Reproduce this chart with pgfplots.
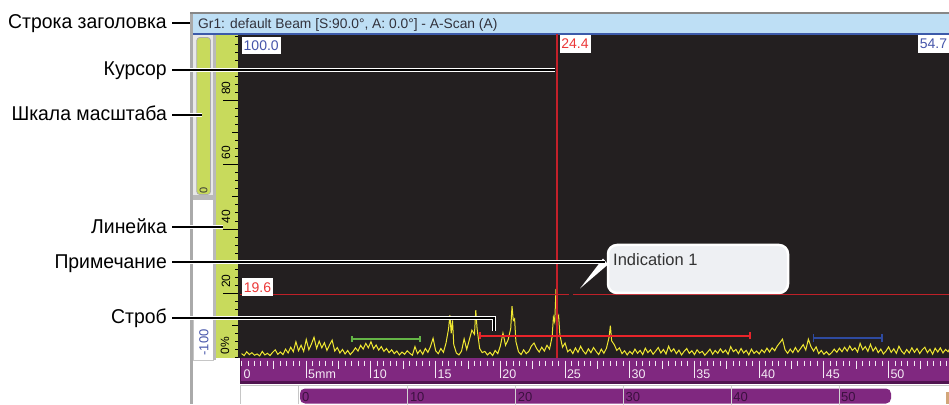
\documentclass[border=0pt]{standalone}
\usepackage{pgfplots}
\pgfplotsset{compat=1.18}
\usepackage{fontspec}
\setmainfont{Liberation Sans}
\newfontfamily\annotfont{Liberation Sans}[FakeStretch=0.97]
\newcommand\fs[1]{\fontsize{#1pt}{#1pt}\selectfont}
\definecolor{titleblue}{RGB}{190,223,245}
\definecolor{titlebord}{RGB}{135,135,135}
\definecolor{titleline}{RGB}{60,90,170}
\definecolor{titletext}{RGB}{50,50,60}
\definecolor{wingray}{RGB}{170,170,170}
\definecolor{plotdark}{RGB}{35,31,32}
\definecolor{rulergreen}{RGB}{200,218,92}
\definecolor{purp}{RGB}{128,40,128}
\definecolor{purpdark}{RGB}{80,20,80}
\definecolor{rulertick}{RGB}{245,235,245}
\definecolor{barlabel}{RGB}{60,16,64}
\definecolor{sig}{RGB}{240,232,50}
\definecolor{thr}{RGB}{190,32,40}
\definecolor{cur}{RGB}{195,32,42}
\definecolor{gateg}{RGB}{100,180,70}
\definecolor{gater}{RGB}{232,36,42}
\definecolor{gateb}{RGB}{46,74,160}
\definecolor{valblue}{RGB}{70,85,170}
\definecolor{valred}{RGB}{235,55,55}
\definecolor{callout}{RGB}{238,240,243}
\newcommand\annot[1]{\draw[white,line width=3.6pt] #1; \draw[black,line width=1.6pt] #1;}
\begin{document}
\begin{tikzpicture}[x=1pt,y=1pt]
\useasboundingbox (0,0) rectangle (949,404);
\begin{scope}[shift={(0pt,404pt)},y=-1pt]
 \fill[white] (0,0) rectangle (949,404);
 \fill[wingray] (189.5,12) rectangle (193,404);
 \fill[titleblue] (193,14) rectangle (949,33.5);
 \fill[titlebord] (189.5,12) rectangle (949,14.2);
 \fill[titleline] (193,33.2) rectangle (949,34.6);
 \node[anchor=base west, font=\fs{13.8}, text=titletext, inner sep=0] at (198,28.8) {Gr1: default Beam [S:90.0°, A: 0.0°] - A-Scan (A)};
 % gain widget
 \fill[gray!18] (193,34.6) rectangle (213.3,200);
 \fill[gray!55] (193,195) rectangle (213.3,200);
 \filldraw[fill=rulergreen, draw=gray!65, line width=0.8pt, rounded corners=3pt] (196.8,37.5) rectangle (210.5,194.5);
 \node[rotate=90, font=\fs{11}, text=black!80, inner sep=0] at (203.6,190.5) {0};
 % -100 box
 \filldraw[fill=white, draw=gray!45, line width=0.8pt] (193.5,318) rectangle (213,360);
 \node[rotate=90, font=\fs{13}, text=valblue, inner sep=0] at (204,342.5) {-100};
 % ruler
 \fill[gray!55] (213.3,34.6) rectangle (215.8,360);
 \fill[rulergreen] (215.8,34.6) rectangle (238.3,358.3);
 \foreach \v in {0,2.5,...,100} \draw[black,line width=0.7pt] (238.3,{357.5-3.215*\v}) -- ++(-3.5,0);
 \foreach \v in {10,30,50,70,90} \draw[black,line width=0.7pt] (238.3,{357.5-3.215*\v}) -- ++(-6.5,0);
 \foreach \v in {20,40,60,80} {
   \draw[black,line width=0.7pt] (238.3,{357.5-3.215*\v}) -- (222.5,{357.5-3.215*\v});
   \node[rotate=90,font=\fs{12},inner sep=0] at (226,{357.5-3.215*\v-12}) {\v};
 }
 \node[rotate=90,font=\fs{12},inner sep=0] at (225,346) {0\%};
 % plot background
 \fill[plotdark] (238.3,34.6) rectangle (949,358.3);
 % purple ruler
 \fill[purp] (240,358.3) rectangle (949,383.5);
 \fill[purpdark] (240,381.3) rectangle (949,383.8);
 \fill[purpdark] (240,358.3) rectangle (241.2,383.8);
 \foreach \m in {0,0.5,...,54.5} \draw[rulertick,line width=0.9pt] ({241.5+12.94*\m},360.5) -- ++(0,5);
 \foreach \m in {2.5,7.5,...,52.5} \draw[rulertick,line width=0.9pt] ({241.5+12.94*\m},360.5) -- ++(0,8.5);
 \foreach \m/\l in {5/5mm,10/10,15/15,20/20,25/25,30/30,35/35,40/40,45/45,50/50} {
   \draw[rulertick,line width=0.9pt] ({241.5+12.94*\m},360.5) -- ++(0,17.5);
   \node[anchor=base west,font=\fs{12.5},text=rulertick,inner sep=0] at ({241.5+12.94*\m+1.8},378) {\l};
 }
 \node[anchor=base west,font=\fs{12.5},text=rulertick,inner sep=0] at (243.3,378) {0};
 % lower bar
 \fill[white] (240,383.8) rectangle (949,404);
 \draw[gray!45,line width=1pt] (240,385.5) -- (949,385.5);
 \draw[gray!45,line width=1pt] (240.5,385.5) -- (240.5,404);
 \draw[gray!45,line width=1pt] (298.5,385.5) -- (298.5,404);
 \fill[purp,rounded corners=5pt] (300,388.5) rectangle (891,403.5);
 \foreach \k in {1,...,5} \draw[gray!35,line width=0.9pt] ({300+107.8*\k},385.5) -- ++(0,19);
 \foreach \k/\l in {0/0,1/10,2/20,3/30,4/40,5/50}
   \node[anchor=base west,font=\fs{13},text=barlabel,inner sep=0] at ({302+107.8*\k},401.5) {\l};
 \fill[brown!70] (946,392) rectangle (949,404);
\end{scope}

\begin{axis}[at={(240pt,45.7pt)}, anchor=south west, scale only axis,
  width=709pt, height=324pt, xmin=-0.12, xmax=54.67, ymin=-0.25, ymax=100.53,
  axis lines=none, clip=true]
\addplot[sig, line width=1.0pt] coordinates {
(0,1.2)(0.2,0.6)(0.4,1.8)(0.6,0.9)(0.8,1.5)(1,0.7)(1.2,1.1)(1.4,0.5)(1.6,1.9)(1.8,0.8)(2,1.3)(2.2,0.6)(2.4,1.6)(2.6,2.4)(2.8,1.0)(3,1.7)(3.2,0.9)(3.4,2.6)(3.6,1.4)(3.8,3.2)(4,1.8)(4.2,4.9)(4.4,2.1)(4.6,3.8)(4.8,1.9)
(5,5.6)(5.2,2.4)(5.4,4.2)(5.6,6.3)(5.8,2.8)(6,5.1)(6.2,3.0)(6.4,4.6)(6.6,2.2)(6.8,3.9)(7,5.4)(7.2,2.0)(7.4,3.1)(7.6,1.4)(7.8,2.5)(8,1.1)(8.2,2.2)(8.4,0.9)(8.6,1.8)(8.8,3.0)(9,2.0)(9.2,3.8)(9.4,2.6)(9.6,4.4)(9.8,3.0)
(10,4.9)(10.2,2.7)(10.4,3.9)(10.6,2.3)(10.8,3.4)(11,1.9)(11.2,2.8)(11.4,1.5)(11.6,2.4)(11.8,1.2)(12,2.0)(12.2,0.8)(12.4,1.7)(12.6,1.0)(12.8,2.1)(13,1.3)(13.2,0.7)(13.4,3.4)(13.6,1.2)(13.8,2.3)(14,1.0)(14.2,2.8)(14.4,1.6)(14.6,3.4)(14.8,6.0)
(15,2.1)(15.2,1.2)(15.4,2.8)(15.6,1.6)(15.8,4.5)(16,9.0)(16.1,13.2)(16.2,7.5)(16.3,11.5)(16.4,4.0)(16.6,1.4)(16.8,0.8)(17,2.0)(17.2,5.8)(17.4,2.5)(17.6,5.5)(17.8,8.5)(18,7.2)(18.1,14.7)(18.2,9.0)(18.4,2.8)(18.6,1.5)(18.8,1.9)(19,0.8)(19.2,1.6)(19.4,0.6)(19.6,2.2)(19.8,1.2)
(20,3.6)(20.2,7.6)(20.4,3.8)(20.6,5.5)(20.8,9.0)(20.9,16.0)(21,11.5)(21.1,12.0)(21.2,5.0)(21.4,1.8)(21.6,0.9)(21.8,2.4)(22,1.2)(22.2,1.9)(22.4,3.6)(22.6,4.5)(22.8,2.8)(23,1.7)(23.2,3.2)(23.4,2.0)(23.6,3.8)(23.8,2.6)(24,6.5)(24.1,12.5)(24.2,11.0)(24.3,21.3)(24.4,12.0)(24.5,13.0)(24.6,7.0)(24.8,3.2)
(25,4.5)(25.2,1.8)(25.4,2.5)(25.6,1.2)(25.8,3.0)(26,1.6)(26.2,3.5)(26.4,2.0)(26.6,1.1)(26.8,2.7)(27,1.5)(27.2,3.1)(27.4,1.9)(27.6,0.9)(27.8,2.6)(28,1.3)(28.2,2.9)(28.4,6.3)(28.5,9.9)(28.6,5.2)(28.8,4.0)(29,2.2)(29.2,3.0)(29.4,1.2)(29.6,2.1)(29.8,0.8)
(30,1.9)(30.2,1.1)(30.4,2.6)(30.6,1.3)(30.8,2.2)(31,0.9)(31.2,2.9)(31.4,1.5)(31.6,2.4)(31.8,1.0)(32,2.0)(32.2,3.1)(32.4,1.4)(32.6,2.5)(32.8,1.1)(33,3.5)(33.2,1.8)(33.4,2.7)(33.6,1.2)(33.8,2.3)(34,0.8)(34.2,1.9)(34.4,2.8)(34.6,1.3)(34.8,2.1)
(35,0.9)(35.2,2.4)(35.4,1.4)(35.6,1.9)(35.8,0.7)(36,1.6)(36.2,2.6)(36.4,1.0)(36.6,2.2)(36.8,1.3)(37,2.7)(37.2,1.5)(37.4,2.3)(37.6,1.0)(37.8,3.4)(38,1.8)(38.2,2.5)(38.4,1.2)(38.6,2.8)(38.8,1.4)(39,2.2)(39.2,0.8)(39.4,2.6)(39.6,1.3)(39.8,2.0)
(40,1.1)(40.2,2.4)(40.4,1.5)(40.6,2.9)(40.8,1.7)(41,3.0)(41.2,2.1)(41.4,3.6)(41.6,4.6)(41.8,5.7)(42,2.4)(42.2,1.3)(42.4,2.6)(42.6,1.5)(42.8,3.1)(43,1.7)(43.2,2.8)(43.4,4.0)(43.6,2.3)(43.8,5.7)(44,3.4)(44.2,2.0)(44.4,3.3)(44.6,1.2)(44.8,2.2)
(45,1.0)(45.2,1.8)(45.4,0.8)(45.6,1.5)(45.8,2.6)(46,1.6)(46.2,2.9)(46.4,1.8)(46.6,3.2)(46.8,2.0)(47,3.6)(47.2,2.2)(47.4,3.0)(47.6,1.7)(47.8,4.4)(48,2.4)(48.2,3.4)(48.4,1.9)(48.6,4.1)(48.8,2.0)(49,3.2)(49.2,1.5)(49.4,2.6)(49.6,1.1)(49.8,2.0)
(50,3.3)(50.2,1.6)(50.4,2.7)(50.6,1.3)(50.8,3.5)(51,2.0)(51.2,1.1)(51.4,2.5)(51.6,1.4)(51.8,3.0)(52,1.6)(52.2,2.8)(52.4,1.2)(52.6,2.4)(52.8,3.2)(53,1.5)(53.2,2.6)(53.4,1.0)(53.6,2.9)(53.8,1.7)(54,3.0)(54.2,1.4)(54.4,2.5)(54.6,1.8)(54.7,2.6)
};
\addplot[thr, line width=1.1pt] coordinates {(-0.12,19.6)(25.3,19.6)};
\addplot[thr, line width=1.1pt] coordinates {(25.65,19.6)(54.67,19.6)};
\addplot[draw=cur, line width=1.8pt] coordinates {(24.4,-0.25)(24.4,100.53)};
% gates
\addplot[gateg, line width=2pt] coordinates {(8.54,5.75)(13.79,5.75)};
\addplot[gateg, line width=1.3pt] coordinates {(8.54,4.8)(8.54,6.7)};
\addplot[gateg, line width=1.3pt] coordinates {(13.79,4.8)(13.79,6.7)};
\addplot[gater, line width=2.2pt] coordinates {(18.43,6.7)(39.29,6.7)};
\addplot[gater, line width=1.3pt] coordinates {(18.43,5.6)(18.43,7.8)};
\addplot[gater, line width=1.3pt] coordinates {(39.29,5.6)(39.29,7.8)};
\addplot[gateb, line width=2.2pt] coordinates {(44.2,6.1)(49.5,6.1)};
\addplot[gateb, line width=1.3pt] coordinates {(44.2,4.9)(44.2,7.3)};
\addplot[gateb, line width=1.3pt] coordinates {(49.5,4.9)(49.5,7.3)};
\end{axis}

\begin{scope}[shift={(0pt,404pt)},y=-1pt]
 % value boxes
 \fill[white] (242,37) rectangle (280.5,54);
 \node[font=\fs{14},text=valblue,inner sep=0] at (261.2,45.5) {100.0};
 \fill[white] (559.5,34.6) rectangle (590.5,53);
 \node[font=\fs{14},text=valred,inner sep=0] at (575,43.8) {24.4};
 \fill[white] (918,34.6) rectangle (949,53);
 \node[font=\fs{14},text=valblue,inner sep=0] at (933.5,43.8) {54.7};
 \fill[white] (242,278.5) rectangle (273,296.5);
 \node[font=\fs{14},text=valred,inner sep=0] at (257.5,287.5) {19.6};
 % callout
 \fill[white] (603,258.5) -- (608,264.5) -- (580,288.5) -- cycle;
 \draw[white,line width=2.5pt,fill=callout,rounded corners=9pt] (608,245) rectangle (788,293);
 \node[anchor=base west,font=\fs{16.5},text=black!80,inner sep=0] at (613,266) {Indication 1};
 % annotation lines
 \annot{(172,23)--(190,23)}
 \annot{(172,70)--(555,70)}
 \annot{(172,115)--(202,115)}
 \annot{(172,227)--(223,227)}
 \annot{(172,262)--(605,262)}
 \annot{(172,318)--(494,318)--(494,331)}
 \node[anchor=base east,font=\annotfont\fs{20},inner sep=0] at (167,29) {Строка заголовка};
 \node[anchor=base east,font=\annotfont\fs{20},inner sep=0] at (167,76) {Курсор};
 \node[anchor=base east,font=\annotfont\fs{20},inner sep=0] at (167,121) {Шкала масштаба};
 \node[anchor=base east,font=\annotfont\fs{20},inner sep=0] at (167,234) {Линейка};
 \node[anchor=base east,font=\annotfont\fs{20},inner sep=0] at (167,268.5) {Примечание};
 \node[anchor=base east,font=\annotfont\fs{20},inner sep=0] at (167,323) {Строб};
\end{scope}
\end{tikzpicture}
\end{document}
